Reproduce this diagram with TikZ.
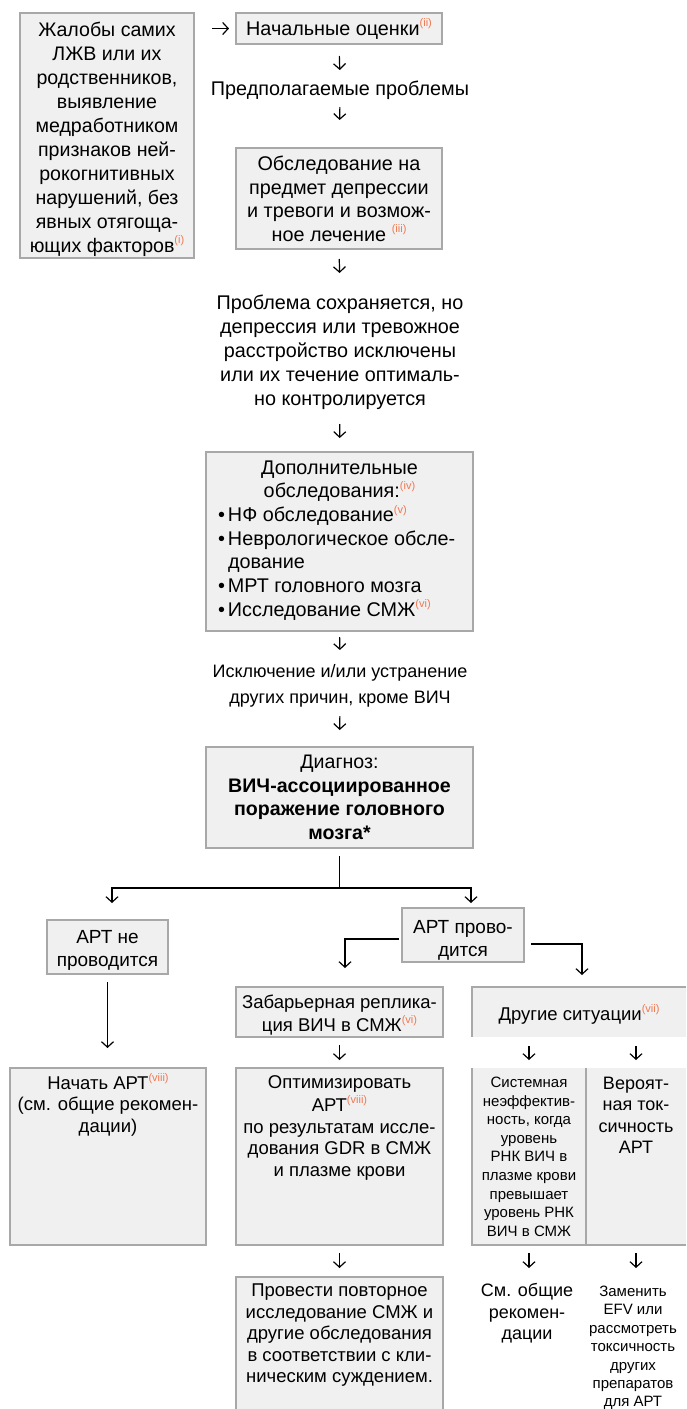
\documentclass[tikz,border=0pt]{standalone}
\usepackage{fontspec}
\setmainfont{Liberation Sans}
\usetikzlibrary{arrows.meta,calc}
\definecolor{boxfill}{HTML}{F0F0F0}
\definecolor{boxline}{HTML}{A8A8A8}
\definecolor{fncol}{HTML}{F07850}

% footnote reference mark, small and orange
\newcommand\fn[1]{\raisebox{0.42em}{\fontsize{11}{11}\selectfont\color{fncol}(#1)}}
% fixed-size cell: width, height, top padding, centred text
\newcommand\cellbox[4]{\parbox[b][#2][t]{#1}{\centering\vspace*{#3}\strut#4\par}}
% bullet item hanging in the left margin
\newcommand\itemdot{\leavevmode\llap{\makebox[10pt][l]{•}}}

\tikzset{
  box/.style={draw=boxline, fill=boxfill, line width=1.1pt, inner sep=0pt, outer sep=0pt, anchor=north west},
  shade/.style={fill=boxfill, inner sep=0pt, outer sep=0pt, anchor=north west},
  plain/.style={inner sep=0pt, outer sep=0pt, anchor=north west},
  edge/.style={draw=boxline, line width=1.1pt},
  flow/.style={line width=1.2pt, -{Straight Barb[length=5.5pt,width=12pt,line width=1.2pt]}},
  link/.style={line width=1.2pt},
}

\begin{document}
\begin{tikzpicture}[x=1pt,y=-1pt]
\fill[white] (0,0) rectangle (686,1409);
\useasboundingbox (0,0) rectangle (686,1409);

% upper column
\node[box, font={\fontsize{19.6}{24}\selectfont}] (A) at (20,13)
  {\cellbox{174pt}{245pt}{6.2pt}{Жалобы самих\\ЛЖВ или их\\родственников,\\выявление\\медработником\\признаков ней-\\рокогнитивных\\нарушений, без\\явных отягоща-\\ющих факторов\fn{i}}};
\node[box, font={\fontsize{19.8}{24}\selectfont}] (B) at (236,13)
  {\cellbox{206pt}{31pt}{5.2pt}{Начальные оценки\fn{ii}}};
\node[plain, font={\fontsize{19.8}{24}\selectfont}] (C) at (190,78)
  {\cellbox{300pt}{24pt}{0.2pt}{Предполагаемые проблемы}};
\node[box, font={\fontsize{19.8}{23.4}\selectfont}] (D) at (236,148)
  {\cellbox{206pt}{101pt}{6.6pt}{Обследование на\\предмет депрессии\\и тревоги и возмож-\\ное лечение \fn{iii}}};
\node[plain, font={\fontsize{19.8}{24.2}\selectfont}] (E) at (190,288)
  {\cellbox{300pt}{122pt}{4.1pt}{Проблема сохраняется, но\\депрессия или тревожное\\расстройство исключены\\или их течение оптималь-\\но контролируется}};
\node[box, font={\fontsize{19.8}{23.7}\selectfont}] (F) at (206,452)
  {\cellbox{267pt}{179pt}{5.4pt}{Дополнительные\\обследования:\fn{iv}\par
   \raggedright\leftskip=22pt\relax
   \itemdot НФ обследование\fn{v}\par
   \itemdot Неврологическое обсле-\\дование\par
   \itemdot МРТ головного мозга\par
   \itemdot Исследование СМЖ\fn{vi}}};
\node[plain, font={\fontsize{18}{26}\selectfont}] (G) at (190,655)
  {\cellbox{300pt}{50pt}{4.3pt}{Исключение и/или устранение\\других причин, кроме ВИЧ}};
\node[box, font={\fontsize{19.6}{23.4}\selectfont}] (H) at (206,747)
  {\cellbox{267pt}{101pt}{5.6pt}{Диагноз:\\\textbf{ВИЧ-ассоциированное}\\\textbf{поражение головного}\\\textbf{мозга*}}};

% second level
\node[box, font={\fontsize{19}{23}\selectfont}] (I) at (47,920)
  {\cellbox{121pt}{54pt}{6.9pt}{АРТ не\\проводится}};
\node[box, font={\fontsize{19}{23}\selectfont}] (J) at (402,908)
  {\cellbox{122pt}{54pt}{8.9pt}{АРТ прово-\\дится}};
\node[box, font={\fontsize{18.5}{21}\selectfont}] (K) at (236,987)
  {\cellbox{207pt}{50pt}{6.8pt}{Забарьерная реплика-\\ция ВИЧ в СМЖ\fn{vi}}};
\node[shade, font={\fontsize{18.5}{21}\selectfont}] (L) at (472,987)
  {\cellbox{214pt}{50pt}{17.3pt}{Другие ситуации\fn{vii}}};

% third level
\node[box, font={\fontsize{18.5}{21.7}\selectfont}] (M) at (10,1068)
  {\cellbox{196pt}{177pt}{5.3pt}{Начать АРТ\fn{viii}\\(см. общие рекомен-\\дации)}};
\node[box, font={\fontsize{18.5}{21.6}\selectfont}] (N) at (236,1068)
  {\cellbox{207pt}{177pt}{5.4pt}{Оптимизировать\\АРТ\fn{viii}\\по результатам иссле-\\дования GDR в СМЖ\\и плазме крови}};
\node[shade, font={\fontsize{15}{18.6}\selectfont}] (O1) at (472,1068)
  {\cellbox{114pt}{177pt}{6.5pt}{Системная\\неэффектив-\\ность, когда\\уровень\\РНК ВИЧ в\\плазме крови\\превышает\\уровень РНК\\ВИЧ в СМЖ}};
\node[shade, font={\fontsize{18}{21.3}\selectfont}] (O2) at (586,1068)
  {\cellbox{100pt}{177pt}{6.6pt}{Вероят-\\ная ток-\\сичность\\АРТ}};

% bottom level
\node[shade, font={\fontsize{18.5}{21.6}\selectfont}] (P) at (236,1277)
  {\cellbox{207pt}{132pt}{4.3pt}{Провести повторное\\исследование СМЖ и\\другие обследования\\в соответствии с кли-\\ническим суждением.}};
\node[plain, font={\fontsize{18}{21.5}\selectfont}] (Q) at (472,1277)
  {\cellbox{110pt}{70pt}{4.5pt}{См. общие\\рекомен-\\дации}};
\node[plain, font={\fontsize{15}{18.4}\selectfont}] (R) at (583,1277)
  {\cellbox{100pt}{132pt}{6.6pt}{Заменить\\EFV или\\рассмотреть\\токсичность\\других\\препаратов\\для АРТ}};

% open-sided frames
\draw[edge] (L.south west) -- (L.north west) -- (L.north east);
\draw[edge] (O1.north west) -- (O1.south west) -- (O2.south east);
\draw[edge] (O1.north east) -- (O1.south east);
\draw[edge] (P.south west) -- (P.north west) -- (P.north east) -- (P.south east);

% connectors
\draw[flow, shorten <=18pt, shorten >=7pt] (A.east |- B.west) -- (B.west);
\draw[flow, shorten <=12pt, shorten >=8pt] (B.south) -- (C.north);
\draw[flow, shorten <=5pt, shorten >=28pt] (C.south) -- (D.north);
\draw[flow, shorten <=10pt, shorten >=15pt] (D.south) -- (E.north);
\draw[flow, shorten <=14pt, shorten >=14pt] (E.south) -- (F.north);
\draw[flow, shorten <=6pt, shorten >=5pt] (F.south) -- (G.north);
\draw[flow, shorten <=11pt, shorten >=17pt] (G.south) -- (H.north);

\coordinate (split) at (339.5,888);
\coordinate (tipI) at (112,903);
\coordinate (tipJ) at (471,903);
\draw[link, shorten <=8pt] (H.south) -- (split);
\draw[flow] (split) -| (tipI);
\draw[flow] (split) -| (tipJ);

\coordinate (tipK) at (345,968);
\coordinate (tipL) at (582,975);
\draw[flow, shorten <=3pt] ([yshift=-4pt]J.west) -| (tipK);
\draw[flow, shorten <=7pt] ([yshift=-9pt]J.east) -| (tipL);

\draw[flow, shorten <=8pt, shorten >=20pt] (I.south) -- (I.south |- M.north);
\draw[flow, shorten <=8pt, shorten >=8pt] (K.south) -- (N.north);
\draw[flow, shorten <=9pt, shorten >=8pt] (L.south -| O1.north) -- (O1.north);
\draw[flow, shorten <=9pt, shorten >=8pt] (L.south -| O2.north) -- (O2.north);
\draw[flow, shorten <=8pt, shorten >=9pt] (N.south) -- (P.north);
\draw[flow, shorten <=8pt, shorten >=9pt] (O1.south) -- (O1.south |- Q.north);
\draw[flow, shorten <=8pt, shorten >=9pt] (O2.south) -- (O2.south |- R.north);
\end{tikzpicture}
\end{document}
